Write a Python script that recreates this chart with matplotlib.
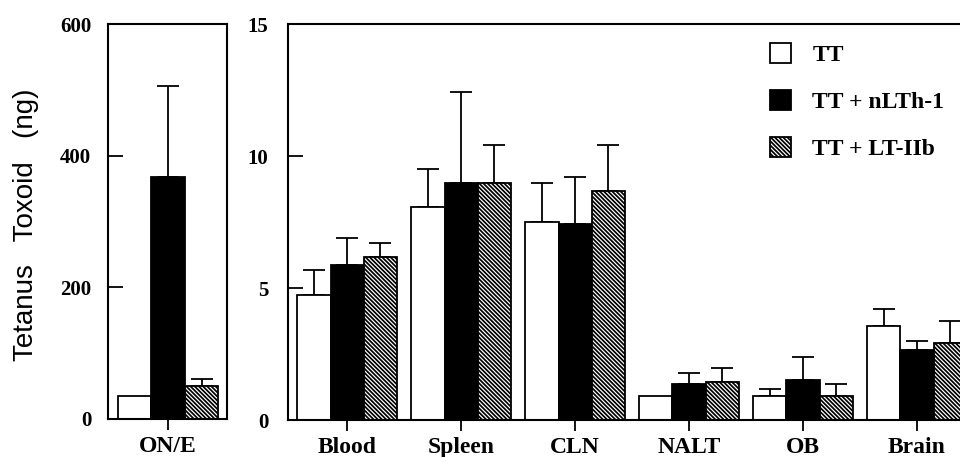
import matplotlib
matplotlib.use("Agg")
import matplotlib.pyplot as plt
import numpy as np
from matplotlib.patches import Patch

# ---- data ----
series = ["TT", "TT + nLTh-1", "TT + LT-IIb"]
left_cat = ["ON/E"]
left_vals = {"TT": [35], "TT + nLTh-1": [368], "TT + LT-IIb": [50]}
left_err = {"TT": [0], "TT + nLTh-1": [138], "TT + LT-IIb": [11]}

cats = ["Blood", "Spleen", "CLN", "NALT", "OB", "Brain"]
tt_vals = [4.73, 8.07, 7.50, 0.91, 0.91, 3.56]
tt_err = [0.95, 1.43, 1.48, 0.0, 0.26, 0.64]
nlth_vals = [5.87, 8.98, 7.42, 1.36, 1.52, 2.65]
nlth_err = [1.02, 3.44, 1.78, 0.42, 0.87, 0.35]
ltiib_vals = [6.17, 8.98, 8.67, 1.44, 0.91, 2.92]
ltiib_err = [0.53, 1.44, 1.75, 0.53, 0.45, 0.83]

left_yticks = [0, 200, 400, 600]
right_yticks = [0, 5, 10, 15]

W, H = 960, 457
fig = plt.figure(figsize=(W / 100, H / 100), dpi=100)

def px_axes(l, r, t, b):
    return fig.add_axes([l / W, 1 - b / H, (r - l) / W, (b - t) / H])

ax1 = px_axes(108, 227, 24, 419)
ax2 = px_axes(288, 974, 24, 420)

serif = "Liberation Serif"
BS = chr(92)
styles = [
    dict(facecolor="white", edgecolor="black", hatch=None),
    dict(facecolor="black", edgecolor="black", hatch=None),
    dict(facecolor="white", edgecolor="black", hatch=BS * 8),
]
plt.rcParams["hatch.linewidth"] = 1.25
plt.rcParams["hatch.color"] = "#222222"

err_kw = dict(fmt="none", ecolor="black", elinewidth=1.3, capsize=8, capthick=1.3, zorder=1)

# ---- left panel ----
x0 = np.arange(len(left_cat))
for i, s in enumerate(series):
    pos = x0 + (i - 1) * 1.0
    ax1.bar(pos, left_vals[s], width=1.0, linewidth=1.3, zorder=2, **styles[i])
    e = np.array(left_err[s]); v = np.array(left_vals[s])
    m = e > 0
    if m.any():
        ax1.errorbar(pos[m], v[m], yerr=[np.zeros(m.sum()), e[m]], **err_kw)
ax1.set_xlim(-1.79, 1.76)
ax1.set_ylim(0, 600)
ax1.set_xticks(x0)
ax1.set_xticklabels(left_cat)
ax1.set_yticks(left_yticks)

# ---- right panel ----
x = np.arange(len(cats))
bw = 0.29
rvals = [tt_vals, nlth_vals, ltiib_vals]
rerrs = [tt_err, nlth_err, ltiib_err]
handles = []
for i, s in enumerate(series):
    pos = x + (i - 1) * bw
    ax2.bar(pos, rvals[i], width=bw, linewidth=1.3, zorder=2, **styles[i])
    e = np.array(rerrs[i]); v = np.array(rvals[i])
    m = e > 0
    ax2.errorbar(pos[m], v[m], yerr=[np.zeros(m.sum()), e[m]], **err_kw)
    handles.append(Patch(linewidth=1.3, label=s, **styles[i]))
ax2.set_xlim(-0.518, 5.5)
ax2.set_ylim(0, 15)
ax2.set_xticks(x)
ax2.set_xticklabels(cats)
ax2.set_yticks(right_yticks)
ax2.spines["right"].set_visible(False)

for ax in (ax1, ax2):
    for sp in ax.spines.values():
        sp.set_linewidth(1.5)
    ax.tick_params(axis="y", direction="in", length=11, width=1.3, pad=12,
                   left=True, right=False)
    ax.tick_params(axis="x", direction="out", length=8, width=1.3, pad=4,
                   bottom=True, top=False)
    for lab in ax.get_yticklabels():
        lab.set_fontfamily(serif); lab.set_fontweight("bold"); lab.set_fontsize(15)
    for lab in ax.get_xticklabels():
        lab.set_fontfamily(serif); lab.set_fontweight("bold"); lab.set_fontsize(17)

ax2.tick_params(axis="y", pad=14)

leg = ax2.legend(handles=handles, loc="upper left",
                 bbox_to_anchor=(770 / W, 1 - 43 / H), bbox_transform=fig.transFigure,
                 frameon=False, borderpad=0, borderaxespad=0,
                 handlelength=0.9, handleheight=0.9, handletextpad=0.9,
                 labelspacing=1.02, prop=dict(family=serif, weight="bold", size=17))

fig.text(26 / W, 1 - 225 / H, "Tetanus   Toxoid   (ng)", rotation=90,
         ha="center", va="center", fontsize=20, family="Liberation Sans")

fig.savefig("out.png", dpi=100)
